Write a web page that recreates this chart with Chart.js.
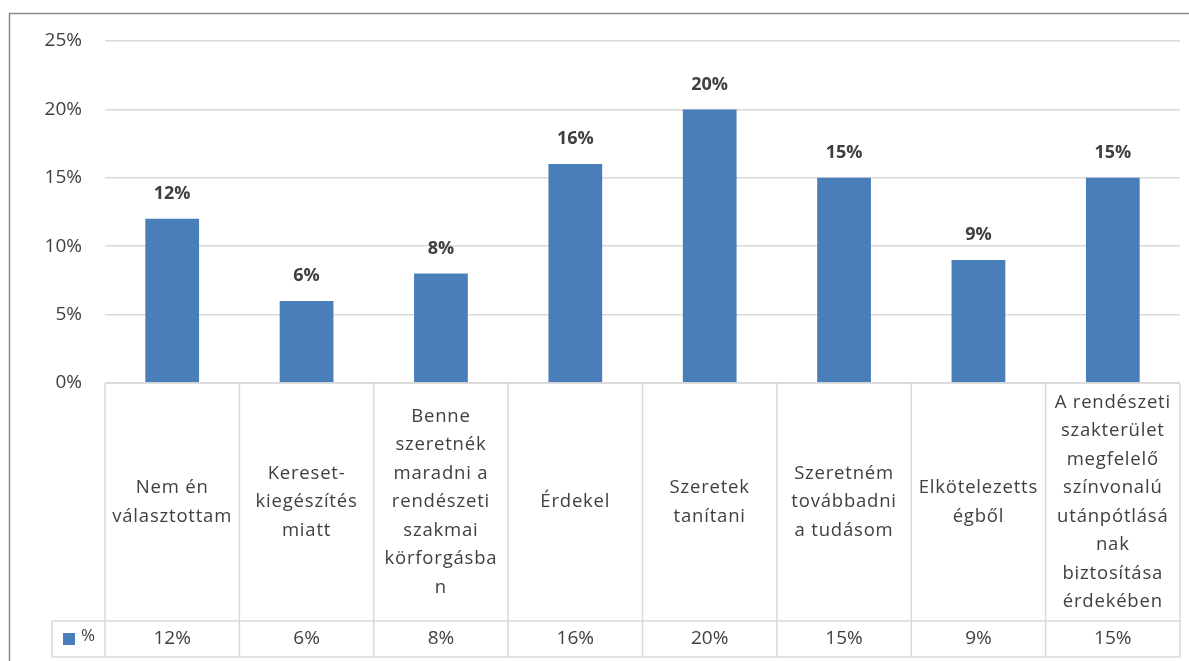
<!DOCTYPE html>
<html>
<head>
<meta charset="utf-8">
<script src="https://cdn.jsdelivr.net/npm/chart.js@4/dist/chart.umd.min.js"></script>
<style>
  html, body { margin: 0; padding: 0; background: #fff; }
  #wrap { position: relative; width: 1189px; height: 661px; }
  canvas { display: block; }
</style>
</head>
<body>
<div id="wrap"><canvas id="c" width="1189" height="661"></canvas></div>
<script>
// Category labels, already broken into lines as they appear in the table cells
const categories = [
  ['Nem én', 'választottam'],
  ['Kereset-', 'kiegészítés', 'miatt'],
  ['Benne', 'szeretnék', 'maradni a', 'rendészeti', 'szakmai', 'körforgásba', 'n'],
  ['Érdekel'],
  ['Szeretek', 'tanítani'],
  ['Szeretném', 'továbbadni', 'a tudásom'],
  ['Elkötelezetts', 'égből'],
  ['A rendészeti', 'szakterület', 'megfelelő', 'színvonalú', 'utánpótlásá', 'nak', 'biztosítása', 'érdekében']
];
const seriesName = '%';
const values = [12, 6, 8, 16, 20, 15, 9, 15];
const yTickMin = 0;
const yTickMax = 25;
const yTickStep = 5;

const FONT = '"Open Sans", "Liberation Sans", sans-serif';
const BAR_COLOR = '#4a7ebb';
const GRID_COLOR = '#d9d9d9';
const TEXT_COLOR = '#404040';

const pct = v => v + '%';

// Outer chart frame (left and top edges)
const framePlugin = {
  id: 'frame',
  beforeDraw(chart) {
    const ctx = chart.ctx;
    ctx.save();
    ctx.strokeStyle = '#8a8a8a';
    ctx.lineWidth = 1.5;
    ctx.beginPath();
    ctx.moveTo(9.5, chart.height);
    ctx.lineTo(9.5, 13.5);
    ctx.lineTo(chart.width, 13.5);
    ctx.stroke();
    ctx.restore();
  }
};

// Value labels above each bar
const barLabelPlugin = {
  id: 'barLabels',
  afterDatasetsDraw(chart) {
    const ctx = chart.ctx;
    const meta = chart.getDatasetMeta(0);
    ctx.save();
    ctx.font = 'bold 18px ' + FONT;
    ctx.fillStyle = TEXT_COLOR;
    ctx.textAlign = 'center';
    ctx.textBaseline = 'middle';
    meta.data.forEach((bar, i) => {
      ctx.fillText(pct(values[i]), bar.x, bar.y - 25);
    });
    ctx.restore();
  }
};

// Data table under the plot: category row + value row with legend key
const dataTablePlugin = {
  id: 'dataTable',
  afterDraw(chart) {
    const ctx = chart.ctx;
    const area = chart.chartArea;
    const xs = chart.scales.x;
    const n = values.length;
    const colW = (area.right - area.left) / n;
    const top = area.bottom;
    const catBottom = top + 238;
    const valBottom = catBottom + 36;
    const keyLeft = 52;

    ctx.save();
    ctx.strokeStyle = GRID_COLOR;
    ctx.lineWidth = 1.5;
    ctx.beginPath();
    ctx.moveTo(area.left, top); ctx.lineTo(area.right, top);
    ctx.moveTo(keyLeft, catBottom); ctx.lineTo(area.right, catBottom);
    ctx.moveTo(keyLeft, valBottom); ctx.lineTo(area.right, valBottom);
    for (let i = 0; i <= n; i++) {
      const x = area.left + i * colW;
      ctx.moveTo(x, top); ctx.lineTo(x, valBottom);
    }
    ctx.moveTo(keyLeft, catBottom); ctx.lineTo(keyLeft, valBottom);
    ctx.stroke();

    ctx.fillStyle = TEXT_COLOR;
    ctx.textAlign = 'center';
    ctx.textBaseline = 'middle';
    ctx.font = '18.5px ' + FONT;
    if ('letterSpacing' in ctx) ctx.letterSpacing = '0.8px';
    const lh = 28.5;
    const midY = (top + catBottom) / 2;
    categories.forEach((lines, i) => {
      const cx = xs.getPixelForValue(i);
      const y0 = midY - (lines.length - 1) / 2 * lh;
      lines.forEach((ln, j) => ctx.fillText(ln, cx, y0 + j * lh));
    });

    ctx.font = '19px ' + FONT;
    if ('letterSpacing' in ctx) ctx.letterSpacing = '0px';
    const valY = (catBottom + valBottom) / 2;
    values.forEach((v, i) => {
      ctx.fillText(pct(v), xs.getPixelForValue(i), valY);
    });

    // legend key
    ctx.fillStyle = BAR_COLOR;
    ctx.fillRect(63, valY - 6, 12, 12);
    ctx.fillStyle = TEXT_COLOR;
    ctx.textAlign = 'left';
    ctx.font = '17px ' + FONT;
    ctx.fillText(seriesName, 81, valY - 3);
    ctx.restore();
  }
};

new Chart(document.getElementById('c'), {
  type: 'bar',
  data: {
    labels: categories,
    datasets: [{
      label: seriesName,
      data: values,
      backgroundColor: BAR_COLOR,
      borderWidth: 0,
      barPercentage: 0.4,
      categoryPercentage: 1.0
    }]
  },
  options: {
    responsive: false,
    animation: false,
    events: [],
    layout: { padding: { top: 41, left: 0, right: 9, bottom: 278 } },
    plugins: {
      legend: { display: false },
      tooltip: { enabled: false }
    },
    scales: {
      x: { display: false, offset: true },
      y: {
        min: yTickMin,
        max: yTickMax,
        afterFit(scale) { scale.width = 105; },
        ticks: {
          stepSize: yTickStep,
          padding: 23,
          color: TEXT_COLOR,
          font: { family: FONT, size: 19 },
          callback: v => pct(v)
        },
        grid: { color: GRID_COLOR, lineWidth: 1.5, drawTicks: false },
        border: { display: false }
      }
    }
  },
  plugins: [framePlugin, barLabelPlugin, dataTablePlugin]
});
</script>
</body>
</html>
